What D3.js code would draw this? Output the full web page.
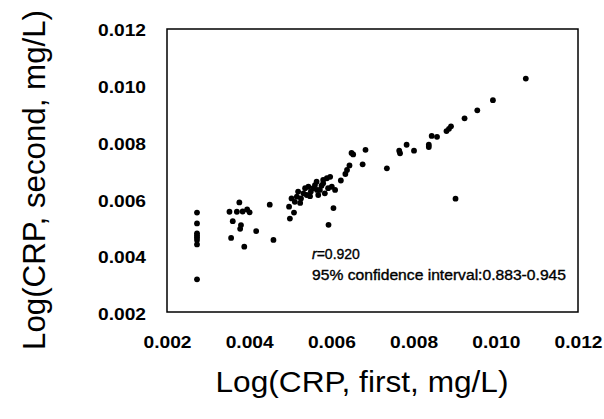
<!DOCTYPE html>
<html><head><meta charset="utf-8">
<script src="https://cdn.jsdelivr.net/npm/d3@7"></script>
<style>html,body{margin:0;padding:0;background:#fff;}</style>
</head><body>
<svg id="c" width="604" height="419"></svg>
<script>
const xTicks = [0.002, 0.004, 0.006, 0.008, 0.010, 0.012];
const yTicks = [0.002, 0.004, 0.006, 0.008, 0.010, 0.012];
const xLabel = "Log(CRP, first, mg/L)";
const yLabel = "Log(CRP, second, mg/L)";
const rText = "=0.920";
const ciText = "95% confidence interval:0.883-0.945";
const firstVals = [
 0.01073,0.00993,0.00955,0.00924,0.00891,0.00886,0.00880,0.00857,0.00844,0.00837,
 0.00837,0.00801,0.00783,0.00765,0.00767,0.00735,0.00683,0.00676,0.00649,0.00653,
 0.00644,0.00638,0.00634,0.00623,0.00902,0.00605,0.00593,0.00450,0.00499,0.00509,
 0.00459,0.00417,0.00376,0.00352,0.00370,0.00384,0.00395,0.00401,0.00360,0.00380,
 0.00378,0.00356,0.00388,0.00273,0.00273,0.00273,0.00273,0.00273,0.00273,0.00273,
 0.00273,0.00497,0.00503,0.00511,0.00516,0.00519,0.00526,0.00532,0.00536,0.00540,
 0.00544,0.00550,0.00556,0.00560,0.00564,0.00568,0.00572,0.00576,0.00580,0.00584,
 0.00589,0.00580,0.00597,0.00601,0.00609,0.00592,0.00524,0.00548,0.00565];
const secondVals = [
 0.01029,0.00953,0.00917,0.00889,0.00861,0.00852,0.00844,0.00824,0.00827,0.00796,
 0.00788,0.00775,0.00796,0.00775,0.00766,0.00713,0.00778,0.00727,0.00767,0.00762,
 0.00723,0.00707,0.00693,0.00670,0.00606,0.00573,0.00514,0.00585,0.00536,0.00557,
 0.00461,0.00492,0.00593,0.00560,0.00560,0.00561,0.00568,0.00558,0.00527,0.00513,
 0.00500,0.00468,0.00437,0.00557,0.00519,0.00484,0.00476,0.00469,0.00461,0.00445,
 0.00322,0.00578,0.00607,0.00595,0.00613,0.00631,0.00607,0.00625,0.00643,0.00619,
 0.00648,0.00631,0.00643,0.00654,0.00666,0.00619,0.00637,0.00652,0.00672,0.00625,
 0.00678,0.00660,0.00683,0.00648,0.00637,0.00643,0.00591,0.00615,0.00637];

const svg = d3.select("#c");
const L = 167, R = 578, T = 30, B = 314;
const x = d3.scaleLinear().domain([0.002, 0.012]).range([L, R]);
const y = d3.scaleLinear().domain([0.002, 0.012]).range([B, T]);
const fmt = d3.format(".3f");

svg.append("rect").attr("x", L).attr("y", T - 1).attr("width", R - L).attr("height", B - T - 1)
  .attr("fill", "none").attr("stroke", "#000").attr("stroke-width", 1.5);

const xAxis = svg.append("g").attr("transform", `translate(0,${B})`)
  .call(d3.axisBottom(x).tickValues(xTicks).tickFormat(fmt).tickSize(0).tickPadding(0));
xAxis.select(".domain").remove();
xAxis.selectAll("text").attr("dy", null).attr("y", 34)
  .attr("font-family", "Liberation Sans, Arial, sans-serif").attr("font-weight", "bold")
  .attr("font-size", 16.5).attr("fill", "#000")
  .attr("textLength", 48).attr("lengthAdjust", "spacingAndGlyphs");

const yAxis = svg.append("g").attr("transform", `translate(146,0)`)
  .call(d3.axisLeft(y).tickValues(yTicks).tickFormat(fmt).tickSize(0).tickPadding(0));
yAxis.select(".domain").remove();
yAxis.selectAll("text").attr("dy", "0.35em").attr("x", 0)
  .attr("font-family", "Liberation Sans, Arial, sans-serif").attr("font-weight", "bold")
  .attr("font-size", 16.5).attr("fill", "#000")
  .attr("textLength", 48).attr("lengthAdjust", "spacingAndGlyphs");

const pts = firstVals.map((v, i) => [v, secondVals[i]]);
svg.append("g").selectAll("circle").data(pts).join("circle")
  .attr("cx", d => x(d[0])).attr("cy", d => y(d[1])).attr("r", 2.9)
  .attr("fill", "#000");

const ann = svg.append("g").attr("font-family", "Liberation Sans, Arial, sans-serif").attr("font-size", 14)
  .attr("fill", "#000").attr("stroke", "#000").attr("stroke-width", 0.35);
const t1 = ann.append("text").attr("x", 312).attr("y", 259);
t1.append("tspan").attr("font-style", "italic").text("r");
t1.append("tspan").text(rText);
ann.append("text").attr("x", 312).attr("y", 280).attr("textLength", 254).attr("lengthAdjust", "spacingAndGlyphs").text(ciText);

svg.append("text").attr("x", 362).attr("y", 392).attr("text-anchor", "middle")
  .attr("font-family", "Liberation Sans, Arial, sans-serif").attr("font-size", 30)
  .attr("textLength", 293).attr("lengthAdjust", "spacingAndGlyphs").text(xLabel);
svg.append("text").attr("transform", "translate(45,180) rotate(-90)").attr("text-anchor", "middle")
  .attr("font-family", "Liberation Sans, Arial, sans-serif").attr("font-size", 31)
  .attr("textLength", 340).attr("lengthAdjust", "spacingAndGlyphs").text(yLabel);
</script>
</body></html>
